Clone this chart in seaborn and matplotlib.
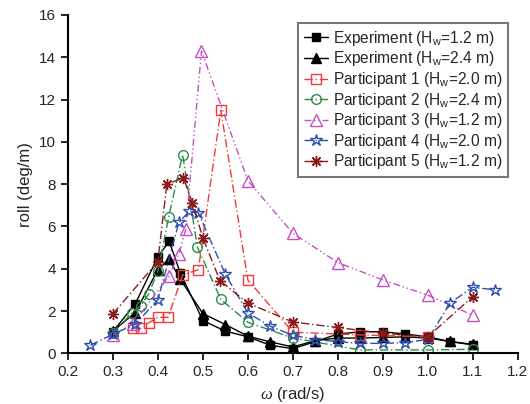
import numpy as np
import pandas as pd
import seaborn as sns
import matplotlib.pyplot as plt

# roll response
exp12_w = [0.30, 0.35, 0.40, 0.425, 0.45, 0.50, 0.55, 0.60, 0.65, 0.70, 0.75, 0.80, 0.85, 0.90, 0.95, 1.00, 1.05, 1.10]
exp12_r = [1.02, 2.35, 4.55, 5.30, 3.80, 1.55, 1.05, 0.78, 0.38, 0.22, 0.55, 0.91, 1.02, 1.02, 0.91, 0.78, 0.55, 0.40]

exp24_w = [0.30, 0.35, 0.40, 0.425, 0.45, 0.50, 0.55, 0.60, 0.65, 0.70, 0.75, 0.80, 0.85, 0.90, 0.95, 1.00, 1.05, 1.10]
exp24_r = [1.05, 1.92, 3.95, 4.45, 3.50, 1.88, 1.36, 0.81, 0.54, 0.30, 0.60, 0.72, 0.72, 0.75, 0.78, 0.72, 0.56, 0.42]

p1_w = [0.345, 0.362, 0.38, 0.40, 0.423, 0.455, 0.49, 0.54, 0.60, 0.70, 0.85, 1.00]
p1_r = [1.18, 1.18, 1.45, 1.70, 1.70, 3.70, 3.95, 11.5, 3.47, 1.00, 0.87, 0.78]

p2_w = [0.30, 0.342, 0.362, 0.38, 0.40, 0.424, 0.455, 0.488, 0.54, 0.60, 0.70, 0.85, 1.00, 1.10]
p2_r = [0.95, 1.90, 2.25, 2.82, 3.88, 6.43, 9.40, 5.02, 2.55, 1.47, 0.72, 0.16, 0.16, 0.19]

p3_w = [0.30, 0.345, 0.425, 0.447, 0.462, 0.497, 0.60, 0.70, 0.80, 0.90, 1.00, 1.10]
p3_r = [0.85, 1.40, 3.66, 4.70, 5.87, 14.3, 8.17, 5.68, 4.29, 3.47, 2.75, 1.80]

p4_w = [0.25, 0.30, 0.35, 0.40, 0.447, 0.47, 0.49, 0.55, 0.60, 0.65, 0.70, 0.75, 0.80, 0.85, 0.90, 0.95, 1.00, 1.05, 1.10, 1.15]
p4_r = [0.38, 0.90, 1.38, 2.53, 6.20, 6.71, 6.65, 3.74, 1.91, 1.28, 0.85, 0.65, 0.55, 0.47, 0.47, 0.50, 0.66, 2.39, 3.12, 3.00]

p5_w = [0.30, 0.40, 0.42, 0.457, 0.477, 0.50, 0.538, 0.60, 0.70, 0.80, 0.90, 1.00, 1.10]
p5_r = [1.86, 4.34, 8.00, 8.29, 7.10, 5.46, 3.44, 2.37, 1.48, 1.22, 0.95, 0.78, 2.68]

labels = [
    r"Experiment (H$_\mathrm{w}$=1.2 m)",
    r"Experiment (H$_\mathrm{w}$=2.4 m)",
    r"Participant 1 (H$_\mathrm{w}$=2.0 m)",
    r"Participant 2 (H$_\mathrm{w}$=2.4 m)",
    r"Participant 3 (H$_\mathrm{w}$=1.2 m)",
    r"Participant 4 (H$_\mathrm{w}$=2.0 m)",
    r"Participant 5 (H$_\mathrm{w}$=1.2 m)",
]
series = [(exp12_w, exp12_r), (exp24_w, exp24_r), (p1_w, p1_r), (p2_w, p2_r),
          (p3_w, p3_r), (p4_w, p4_r), (p5_w, p5_r)]

styles = [
    dict(color="black", marker="s", ls="-", mfc="black", ms=6),
    dict(color="black", marker="^", ls="-", mfc="black", ms=7),
    dict(color="#f03c3c", marker="s", ls=(0, (6, 2, 1, 2)), mfc="none", ms=7),
    dict(color="#2e8b4a", marker="o", ls=(0, (6, 2, 1, 2)), mfc="none", ms=7),
    dict(color="#c34fc3", marker="^", ls=(0, (5, 2, 1, 2, 1, 2)), mfc="none", ms=8),
    dict(color="#3050b0", marker="*", ls=(0, (6, 2, 1, 2)), mfc="none", ms=9),
    dict(color="#8b1a1a", marker=(8, 2, 0), ls=(0, (6, 2, 1, 2)), mfc="none", ms=8),
]

sns.set_style("ticks")
plt.rcParams["font.family"] = ["Liberation Sans", "DejaVu Sans"]
plt.rcParams["mathtext.fontset"] = "custom"
plt.rcParams["mathtext.rm"] = "Liberation Sans"
plt.rcParams["mathtext.it"] = "Liberation Serif:italic"

fig = plt.figure(figsize=(5.3, 4.04), dpi=100)
ax = fig.add_axes([0.128, 0.1255, 0.849, 0.8375])

for (w, r), lab, st in zip(series, labels, styles):
    df = pd.DataFrame({"w": w, "roll": r})
    sns.lineplot(data=df, x="w", y="roll", ax=ax, label=lab, estimator=None,
                 color=st["color"], marker=st["marker"], linestyle=st["ls"],
                 markerfacecolor=st["mfc"], markeredgecolor=st["color"],
                 markersize=st["ms"], markeredgewidth=1.0, linewidth=1.0)

ax.set_xlim(0.2, 1.2)
ax.set_ylim(0, 16)
ax.set_xticks(np.arange(0.2, 1.21, 0.1))
ax.set_xticklabels([f"{v:.1f}" for v in np.arange(0.2, 1.21, 0.1)])
ax.set_yticks(np.arange(0, 17, 2))
ax.tick_params(labelsize=11, direction="out", length=5, width=1.2, color="black")
for s in ["left", "bottom"]:
    ax.spines[s].set_linewidth(1.5)
    ax.spines[s].set_color("black")
ax.spines["top"].set_visible(False)
ax.spines["right"].set_visible(False)

ax.set_xlabel(r"$\omega$ (rad/s)", fontsize=12)
ax.set_ylabel("roll (deg/m)", fontsize=12)

leg = ax.legend(loc="upper right", bbox_to_anchor=(0.978, 0.975), fontsize=11.2,
                frameon=True, fancybox=False, handlelength=1.6, handletextpad=0.3,
                labelspacing=0.1, borderpad=0.35, borderaxespad=0.0)
leg.get_frame().set_edgecolor("#555555")
leg.get_frame().set_linewidth(1.5)

plt.savefig("out.png", dpi=100)
